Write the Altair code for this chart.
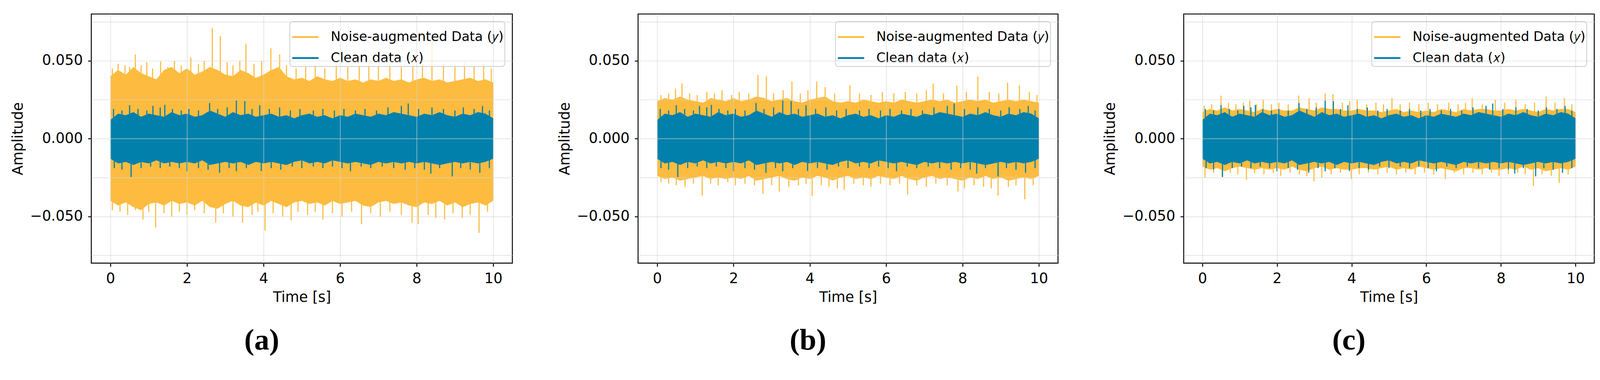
import pandas as pd
import altair as alt

NOISY = "Noise-augmented Data (𝑦)"
CLEAN = "Clean data (𝑥)"
ORANGE = "#fdbc3f"
BLUE = "#0180ac"

# time grid of the envelopes (s)
times = [0.0, 0.2, 0.4, 0.6, 0.8, 1.0, 1.2, 1.4, 1.6, 1.8,
         2.0, 2.2, 2.4, 2.6, 2.8, 3.0, 3.2, 3.4, 3.6, 3.8,
         4.0, 4.2, 4.4, 4.6, 4.8, 5.0, 5.2, 5.4, 5.6, 5.8,
         6.0, 6.2, 6.4, 6.6, 6.8, 7.0, 7.2, 7.4, 7.6, 7.8,
         8.0, 8.2, 8.4, 8.6, 8.8, 9.0, 9.2, 9.4, 9.6, 9.8, 10.0]

# clean signal x (same in all panels): upper / lower envelope
clean_hi = [0.012, 0.016, 0.015, 0.017, 0.014, 0.016, 0.015, 0.014, 0.017, 0.015,
            0.016, 0.014, 0.015, 0.018, 0.016, 0.014, 0.017, 0.015, 0.016, 0.014,
            0.015, 0.016, 0.014, 0.015, 0.013, 0.015, 0.016, 0.014, 0.015, 0.013,
            0.015, 0.014, 0.016, 0.015, 0.014, 0.016, 0.015, 0.017, 0.016, 0.015,
            0.014, 0.016, 0.015, 0.017, 0.015, 0.014, 0.016, 0.015, 0.017, 0.016, 0.013]
clean_lo = [-0.013, -0.016, -0.015, -0.017, -0.015, -0.016, -0.014, -0.016, -0.015, -0.016,
            -0.015, -0.016, -0.014, -0.017, -0.016, -0.015, -0.016, -0.015, -0.017, -0.015,
            -0.016, -0.015, -0.016, -0.017, -0.015, -0.014, -0.016, -0.015, -0.016, -0.014,
            -0.015, -0.016, -0.015, -0.016, -0.017, -0.015, -0.016, -0.015, -0.016, -0.015,
            -0.016, -0.015, -0.016, -0.017, -0.016, -0.015, -0.016, -0.015, -0.016, -0.015, -0.013]
clean_spike_t = [0.08, 0.30, 0.50, 0.72, 0.95, 1.11, 1.30, 1.42, 1.62, 1.85, 2.05, 2.30, 2.59, 2.80,
                 3.05, 3.29, 3.51, 3.70, 3.90, 4.15, 4.42, 4.70, 4.95, 5.30, 5.55, 5.85, 6.10, 6.40,
                 6.65, 6.95, 7.25, 7.60, 7.78, 8.05, 8.40, 8.70, 9.00, 9.22, 9.50, 9.72, 9.90,
                 0.10, 0.30, 0.54, 0.80, 1.05, 1.30, 1.55, 1.80, 2.00, 2.30, 2.55, 2.85, 3.10,
                 3.29, 3.55, 3.94, 4.20, 4.45, 4.75, 5.00, 5.30, 5.55, 5.80, 6.05, 6.27, 6.55,
                 6.80, 7.10, 7.40, 7.70, 7.95, 8.20, 8.37, 8.60, 8.93, 9.15, 9.40, 9.65, 9.90]
clean_spike_v = [0.019, 0.018, 0.0214, 0.019, 0.018, 0.021, 0.020, 0.0216, 0.019, 0.018, 0.019, 0.018, 0.0228, 0.019,
                 0.020, 0.0244, 0.024, 0.019, 0.0214, 0.019, 0.020, 0.018, 0.019, 0.018, 0.019, 0.018, 0.019, 0.018,
                 0.019, 0.018, 0.020, 0.021, 0.0225, 0.019, 0.020, 0.019, 0.018, 0.020, 0.019, 0.0209, 0.018,
                 -0.019, -0.020, -0.0247, -0.019, -0.018, -0.019, -0.018, -0.019, -0.021, -0.019, -0.020, -0.022, -0.019,
                 -0.021, -0.019, -0.0208, -0.019, -0.020, -0.018, -0.019, -0.018, -0.019, -0.018, -0.019, -0.021, -0.018,
                 -0.019, -0.018, -0.019, -0.020, -0.019, -0.020, -0.0225, -0.019, -0.0243, -0.019, -0.020, -0.022, -0.019]

# noise-augmented y, panel (a)
a_hi = [0.040, 0.044, 0.041, 0.046, 0.042, 0.040, 0.038, 0.044, 0.046, 0.042,
        0.045, 0.041, 0.043, 0.046, 0.044, 0.041, 0.040, 0.044, 0.042, 0.039,
        0.041, 0.044, 0.046, 0.040, 0.038, 0.039, 0.037, 0.040, 0.038, 0.037,
        0.039, 0.037, 0.038, 0.036, 0.038, 0.037, 0.039, 0.037, 0.038, 0.036,
        0.038, 0.039, 0.037, 0.038, 0.036, 0.037, 0.038, 0.039, 0.037, 0.038, 0.036]
a_lo = [-0.040, -0.043, -0.041, -0.044, -0.046, -0.042, -0.041, -0.043, -0.040, -0.042,
        -0.041, -0.043, -0.040, -0.044, -0.045, -0.042, -0.040, -0.043, -0.044, -0.041,
        -0.043, -0.040, -0.042, -0.044, -0.041, -0.040, -0.042, -0.041, -0.043, -0.040,
        -0.042, -0.041, -0.040, -0.043, -0.044, -0.041, -0.040, -0.042, -0.041, -0.043,
        -0.044, -0.041, -0.042, -0.040, -0.043, -0.041, -0.044, -0.042, -0.041, -0.043, -0.040]
a_spike_t = [0.05, 0.20, 0.38, 0.50, 0.65, 0.80, 0.95, 1.10, 1.31, 1.50, 1.67, 1.85, 2.10, 2.30, 2.45,
             2.66, 2.87, 3.05, 3.20, 3.38, 3.54, 3.75, 3.95, 4.19, 4.42, 4.60, 4.85, 5.10, 5.35, 5.60,
             5.90, 6.20, 6.50, 6.75, 7.00, 7.30, 7.60, 7.90, 8.15, 8.40, 8.70, 9.00, 9.25, 9.50, 9.75, 9.95,
             0.05, 0.25, 0.45, 0.65, 0.85, 1.00, 1.18, 1.40, 1.60, 1.80, 2.00, 2.20, 2.45, 2.75, 2.95,
             3.20, 3.45, 3.70, 3.85, 4.04, 4.25, 4.50, 4.72, 4.90, 5.15, 5.35, 5.55, 5.80, 6.05, 6.30,
             6.56, 6.80, 7.05, 7.30, 7.60, 7.88, 8.04, 8.30, 8.50, 8.73, 8.95, 9.19, 9.40, 9.63, 9.85]
a_spike_v = [0.045, 0.048, 0.047, 0.046, 0.054, 0.047, 0.049, 0.045, 0.0495, 0.046, 0.050, 0.047, 0.052, 0.048, 0.050,
             0.071, 0.066, 0.049, 0.047, 0.050, 0.061, 0.048, 0.050, 0.058, 0.054, 0.047, 0.045, 0.046, 0.047, 0.045,
             0.048, 0.046, 0.047, 0.049, 0.046, 0.048, 0.046, 0.050, 0.047, 0.062, 0.048, 0.046, 0.049, 0.047, 0.048, 0.045,
             -0.046, -0.047, -0.049, -0.046, -0.052, -0.047, -0.057, -0.048, -0.050, -0.047, -0.049, -0.046, -0.048, -0.054, -0.048,
             -0.050, -0.054, -0.049, -0.047, -0.059, -0.048, -0.050, -0.0525, -0.047, -0.049, -0.047, -0.052, -0.048, -0.050, -0.047,
             -0.055, -0.048, -0.050, -0.047, -0.049, -0.054, -0.055, -0.049, -0.051, -0.052, -0.048, -0.051, -0.049, -0.0605, -0.047]

# noise-augmented y, panel (b)
b_hi = [0.024, 0.026, 0.025, 0.027, 0.025, 0.024, 0.023, 0.026, 0.025, 0.024,
        0.026, 0.024, 0.025, 0.027, 0.026, 0.024, 0.025, 0.026, 0.024, 0.023,
        0.025, 0.026, 0.027, 0.024, 0.023, 0.024, 0.023, 0.025, 0.024, 0.023,
        0.024, 0.023, 0.025, 0.024, 0.023, 0.024, 0.025, 0.024, 0.025, 0.023,
        0.024, 0.025, 0.024, 0.025, 0.023, 0.024, 0.025, 0.024, 0.025, 0.024, 0.023]
b_lo = [-0.024, -0.026, -0.025, -0.027, -0.026, -0.025, -0.024, -0.026, -0.025, -0.026,
        -0.025, -0.026, -0.024, -0.027, -0.026, -0.025, -0.024, -0.026, -0.027, -0.025,
        -0.026, -0.024, -0.025, -0.027, -0.025, -0.024, -0.026, -0.025, -0.026, -0.024,
        -0.025, -0.026, -0.024, -0.026, -0.027, -0.025, -0.024, -0.026, -0.025, -0.026,
        -0.027, -0.025, -0.026, -0.024, -0.026, -0.025, -0.027, -0.026, -0.025, -0.026, -0.024]
b_spike_t = [0.10, 0.30, 0.48, 0.65, 0.85, 1.05, 1.30, 1.50, 1.70, 1.95, 2.15, 2.40, 2.64, 2.86,
             3.05, 3.30, 3.53, 3.75, 3.95, 4.18, 4.40, 4.65, 5.05, 5.30, 5.60, 5.90, 6.20, 6.50,
             6.80, 7.05, 7.23, 7.50, 7.85, 8.10, 8.40, 8.70, 8.95, 9.18, 9.49, 9.75, 9.95,
             0.10, 0.30, 0.50, 0.73, 0.95, 1.18, 1.40, 1.60, 1.85, 2.05, 2.30, 2.55, 2.77, 3.00,
             3.20, 3.45, 3.70, 3.90, 4.06, 4.30, 4.50, 4.72, 4.90, 5.15, 5.40, 5.60, 5.85, 6.10,
             6.35, 6.56, 6.80, 7.05, 7.30, 7.60, 7.88, 8.05, 8.30, 8.55, 8.75, 8.93, 9.20, 9.40, 9.63, 9.85]
b_spike_v = [0.028, 0.029, 0.032, 0.0354, 0.029, 0.028, 0.030, 0.029, 0.031, 0.028, 0.030, 0.029, 0.041, 0.040,
             0.029, 0.031, 0.0366, 0.029, 0.031, 0.0366, 0.033, 0.029, 0.0342, 0.029, 0.028, 0.030, 0.029, 0.030,
             0.029, 0.031, 0.0354, 0.029, 0.034, 0.030, 0.0398, 0.030, 0.029, 0.036, 0.0342, 0.030, 0.028,
             -0.028, -0.029, -0.030, -0.031, -0.029, -0.0366, -0.029, -0.030, -0.028, -0.030, -0.029, -0.030, -0.0354, -0.030,
             -0.034, -0.031, -0.030, -0.029, -0.037, -0.030, -0.031, -0.032, -0.033, -0.029, -0.030, -0.031, -0.029, -0.030,
             -0.029, -0.036, -0.030, -0.031, -0.029, -0.030, -0.034, -0.032, -0.030, -0.031, -0.032, -0.0366, -0.031, -0.030, -0.039, -0.030]

# noise-augmented y, panel (c)
c_hi = [0.017, 0.019, 0.018, 0.020, 0.018, 0.019, 0.018, 0.017, 0.019, 0.018,
        0.019, 0.018, 0.018, 0.020, 0.019, 0.018, 0.020, 0.019, 0.019, 0.018,
        0.018, 0.019, 0.018, 0.018, 0.017, 0.018, 0.019, 0.017, 0.018, 0.017,
        0.018, 0.017, 0.019, 0.018, 0.017, 0.019, 0.018, 0.019, 0.019, 0.018,
        0.018, 0.019, 0.018, 0.019, 0.018, 0.017, 0.019, 0.018, 0.019, 0.019, 0.017]
c_lo = [-0.018, -0.020, -0.019, -0.021, -0.019, -0.018, -0.019, -0.020, -0.019, -0.020,
        -0.019, -0.020, -0.018, -0.020, -0.021, -0.019, -0.018, -0.020, -0.019, -0.020,
        -0.020, -0.019, -0.019, -0.020, -0.019, -0.018, -0.020, -0.019, -0.020, -0.018,
        -0.019, -0.020, -0.019, -0.020, -0.021, -0.019, -0.019, -0.020, -0.019, -0.020,
        -0.020, -0.019, -0.020, -0.018, -0.020, -0.019, -0.021, -0.020, -0.019, -0.020, -0.018]
c_spike_t = [0.05, 0.25, 0.50, 0.70, 0.90, 1.10, 1.27, 1.45, 1.63, 1.85, 2.05, 2.30, 2.58, 2.86, 3.05,
             3.29, 3.50, 3.75, 3.95, 4.15, 4.40, 4.65, 4.85, 5.08, 5.30, 5.55, 5.80, 6.05, 6.30, 6.60,
             6.85, 7.05, 7.23, 7.50, 7.85, 8.10, 8.40, 8.65, 8.90, 9.21, 9.45, 9.70, 9.90,
             0.07, 0.30, 0.53, 0.75, 0.95, 1.18, 1.40, 1.65, 1.90, 2.10, 2.35, 2.60, 2.80, 2.99,
             3.20, 3.45, 3.70, 3.99, 4.20, 4.45, 4.70, 4.95, 5.20, 5.45, 5.70, 5.95, 6.20, 6.51,
             6.75, 7.00, 7.25, 7.50, 7.75, 7.95, 8.20, 8.45, 8.65, 8.87, 9.10, 9.35, 9.56, 9.80]
c_spike_v = [0.021, 0.022, 0.0276, 0.023, 0.022, 0.023, 0.0244, 0.022, 0.025, 0.022, 0.023, 0.022, 0.0276, 0.026, 0.023,
             0.029, 0.0285, 0.023, 0.024, 0.025, 0.022, 0.023, 0.022, 0.026, 0.022, 0.023, 0.022, 0.023, 0.022, 0.023,
             0.022, 0.023, 0.026, 0.022, 0.025, 0.023, 0.025, 0.022, 0.023, 0.027, 0.023, 0.026, 0.022,
             -0.025, -0.022, -0.0247, -0.022, -0.023, -0.0265, -0.022, -0.023, -0.022, -0.024, -0.022, -0.023, -0.024, -0.0275,
             -0.025, -0.023, -0.022, -0.026, -0.023, -0.022, -0.023, -0.022, -0.023, -0.022, -0.023, -0.022, -0.023, -0.026,
             -0.022, -0.023, -0.022, -0.023, -0.022, -0.024, -0.023, -0.022, -0.023, -0.0304, -0.023, -0.024, -0.0285, -0.023]

x_ticks = [0, 2, 4, 6, 8, 10]
y_grid = [-0.075, -0.05, -0.025, 0.0, 0.025, 0.05, 0.075]

color = alt.Color(
    "series:N",
    scale=alt.Scale(domain=[NOISY, CLEAN], range=[ORANGE, BLUE]),
    legend=alt.Legend(title=None),
)


def x_enc():
    return alt.X("t:Q", title="Time [s]",
                 scale=alt.Scale(domain=[-0.5, 10.5], nice=False, zero=False),
                 axis=alt.Axis(values=x_ticks, format="d", zindex=1))


def y_enc(field):
    return alt.Y(field, title="Amplitude",
                 scale=alt.Scale(domain=[-0.08, 0.08], nice=False),
                 axis=alt.Axis(values=y_grid, format=".3f", zindex=1,
                               labelExpr="abs(round(datum.value*1000)) % 50 == 0 ? datum.label : ''",
                               tickOpacity={"condition": {"test": "abs(round(datum.value*1000)) % 50 != 0", "value": 0},
                                            "value": 1}))


def panel(hi, lo, spike_t, spike_v, caption, w, h):
    noisy = pd.DataFrame({"t": times, "lo": lo, "hi": hi, "series": NOISY})
    clean = pd.DataFrame({"t": times, "lo": clean_lo, "hi": clean_hi, "series": CLEAN})
    noisy_spk = pd.DataFrame({"t": spike_t, "v": spike_v, "series": NOISY})
    clean_spk = pd.DataFrame({"t": clean_spike_t, "v": clean_spike_v, "series": CLEAN})

    spikes = lambda d: alt.Chart(d).mark_rule(strokeWidth=3).encode(
        x=x_enc(), y=y_enc("v:Q"), y2=alt.datum(0), color=color)
    band = lambda d: alt.Chart(d).mark_area(interpolate="linear").encode(
        x=x_enc(), y=y_enc("lo:Q"), y2="hi:Q", color=color)

    return alt.layer(
        spikes(noisy_spk), band(noisy), spikes(clean_spk), band(clean)
    ).properties(
        width=w, height=h,
        title=alt.TitleParams(caption, orient="bottom", anchor="middle", frame="bounds",
                              font="Liberation Serif", fontSize=80, fontWeight="bold",
                              color="black", offset=56),
    )


chart = alt.hconcat(
    panel(a_hi, a_lo, a_spike_t, a_spike_v, "(a)", 1122, 664),
    panel(b_hi, b_lo, b_spike_t, b_spike_v, "(b)", 1119, 664),
    panel(c_hi, c_lo, c_spike_t, c_spike_v, "(c)", 1094, 664),
    spacing=118,
).resolve_scale(
    color="independent"
).properties(
    padding={"left": 20, "top": 8, "right": 5, "bottom": 5}
).configure_axis(
    labelFont="DejaVu Sans", labelFontSize=38, labelColor="black", labelPadding=14,
    titleFont="DejaVu Sans", titleFontSize=38, titleFontWeight="normal", titleColor="black",
    titlePadding=12, tickColor="black", tickSize=9, tickWidth=2.5, domain=False,
    gridColor="#d4d4d4", gridOpacity=0.6, gridWidth=2,
).configure_view(
    stroke="black", strokeWidth=2.5
).configure_legend(
    orient="top-right", offset=20, padding=4, cornerRadius=8,
    strokeColor="#cccccc", strokeWidth=2, fillColor="rgba(255,255,255,0.8)",
    labelFont="DejaVu Sans", labelFontSize=35, labelColor="black", labelOffset=30,
    labelLimit=0, symbolType="stroke", symbolSize=4900, symbolStrokeWidth=5, rowPadding=-6,
)

chart.save("out.html", embed_options={"renderer": "svg", "actions": False})
